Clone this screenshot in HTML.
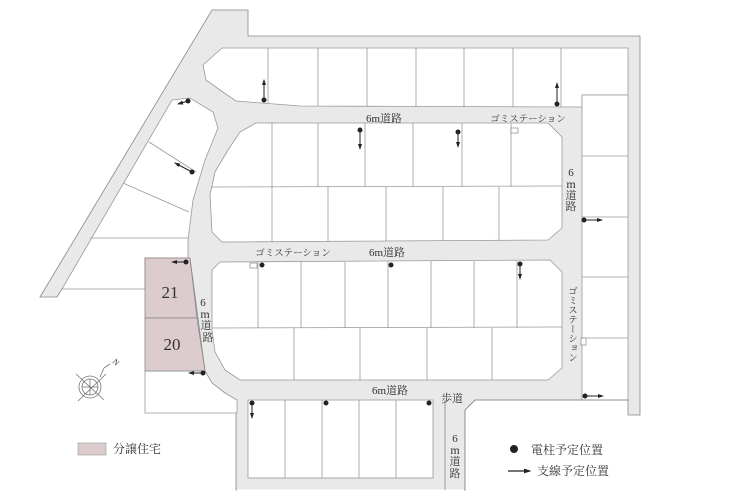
<!DOCTYPE html>
<html><head><meta charset="utf-8"><style>
html,body{margin:0;padding:0;background:#fff;}
svg{display:block;}
text{font-family:"Liberation Serif","Noto Serif CJK SC",serif;fill:#333;}
.j{font-family:"Liberation Serif","Noto Serif CJK JP","Noto Sans CJK JP",serif;}
</style></head><body>
<svg width="730" height="500" viewBox="0 0 730 500" xmlns="http://www.w3.org/2000/svg">
<defs><marker id="ah" markerWidth="6" markerHeight="6" refX="5" refY="3" orient="auto"><path d="M0,1 L6,3 L0,5 z" fill="#222"/></marker></defs>
<polygon points="212,10 248,10 248,36 640,36 640,415 628,415 628,400 475,400 465,410 465,490 236,490 236,400 225,393 212,383 205,371 190,258 188,258 62,289 57,297 40,297" fill="#e9e9e9" stroke="#888" stroke-width="0.8"/>
<line x1="237" y1="490.5" x2="464" y2="490.5" stroke="#fff" stroke-width="2"/>
<g fill="#fff" stroke="#999" stroke-width="0.8">
<polygon points="222,48 628,48 628,95 582,95 582,107 300,106 236,101 220,90 206,80 203,65"/>
<line x1="268" y1="48" x2="268" y2="103"/><line x1="318" y1="48" x2="318" y2="106"/>
<line x1="367" y1="48" x2="367" y2="106"/><line x1="416" y1="48" x2="416" y2="106"/>
<line x1="464" y1="48" x2="464" y2="107"/><line x1="513" y1="48" x2="513" y2="107"/>
<line x1="561" y1="48" x2="561" y2="107"/>
<rect x="582" y="95" width="46" height="305"/>
<line x1="582" y1="156" x2="628" y2="156"/><line x1="582" y1="217" x2="628" y2="217"/>
<line x1="582" y1="277" x2="628" y2="277"/><line x1="582" y1="338" x2="628" y2="338"/>
<polygon points="256,123 548,123 562,137 562,228 548,240 222,242 212,232 210,195 215,172 228,150 240,132"/>
<line x1="211" y1="187" x2="562" y2="186"/>
<line x1="272" y1="123" x2="272" y2="242"/><line x1="318" y1="123" x2="318" y2="187"/>
<line x1="365" y1="123" x2="365" y2="187"/><line x1="413" y1="123" x2="413" y2="187"/>
<line x1="462" y1="123" x2="462" y2="187"/><line x1="511" y1="123" x2="511" y2="187"/>
<line x1="328" y1="187" x2="328" y2="241"/><line x1="386" y1="187" x2="386" y2="241"/>
<line x1="443" y1="187" x2="443" y2="241"/><line x1="499" y1="187" x2="499" y2="240"/>
<polygon points="220,262 550,260 562,272 562,368 548,380 240,380 225,370 215,352 212,330 212,270"/>
<line x1="212" y1="328" x2="562" y2="327"/>
<line x1="258" y1="262" x2="258" y2="328"/><line x1="301" y1="262" x2="301" y2="328"/>
<line x1="345" y1="262" x2="345" y2="328"/><line x1="388" y1="261" x2="388" y2="328"/>
<line x1="431" y1="261" x2="431" y2="328"/><line x1="474" y1="261" x2="474" y2="328"/>
<line x1="517" y1="261" x2="517" y2="328"/>
<line x1="294" y1="328" x2="294" y2="380"/><line x1="360" y1="328" x2="360" y2="380"/>
<line x1="427" y1="328" x2="427" y2="380"/><line x1="492" y1="328" x2="492" y2="380"/>
<rect x="248" y="400" width="185" height="78"/>
<line x1="285" y1="400" x2="285" y2="478"/><line x1="322" y1="400" x2="322" y2="478"/>
<line x1="359" y1="400" x2="359" y2="478"/><line x1="396" y1="400" x2="396" y2="478"/>
<polygon points="172,100 190,98 213,112 218,128 205,160 193,200 188,240 188,258 145,258 145,289 62,289"/>
<line x1="149" y1="142" x2="196" y2="172"/><line x1="123" y1="183" x2="189" y2="212"/>
<line x1="90" y1="238" x2="188" y2="238"/>
<polygon points="145,371 205,371 212,383 225,393 237,400 237,413 145,413"/>
</g>
<line x1="445" y1="400" x2="445" y2="490" stroke="#888" stroke-width="0.8"/>
<polyline points="465,490 465,410 475,400 628,400" fill="none" stroke="#888" stroke-width="0.8"/>
<polygon points="145,258 190,258 197,318 145,318" fill="#dccccd" stroke="#888" stroke-width="0.8"/>
<polygon points="145,318 197,318 205,371 145,371" fill="#dccccd" stroke="#888" stroke-width="0.8"/>
<text x="170" y="298" font-size="17" text-anchor="middle">21</text>
<text x="172" y="350" font-size="17" text-anchor="middle">20</text>
<g fill="#fff" stroke="#888" stroke-width="0.7">
<rect x="511" y="128" width="7" height="5"/><rect x="250" y="263" width="7" height="5"/><rect x="581" y="338" width="5" height="7"/>
</g>
<g class="j" font-size="10.5">
<text x="384" y="122" text-anchor="middle" font-size="11">6m道路</text>
<text x="528" y="122" text-anchor="middle" font-size="9.5">ゴミステーション</text>
<text x="293" y="256" text-anchor="middle" font-size="9.5">ゴミステーション</text>
<text x="387" y="256" text-anchor="middle" font-size="11">6m道路</text>
<text x="390" y="394" text-anchor="middle" font-size="11">6m道路</text>
<text x="452" y="402" text-anchor="middle" font-size="11">歩道</text>
<text x="571" y="176" text-anchor="middle" font-size="11">6</text>
<text x="571" y="188" text-anchor="middle" font-size="12">m</text>
<text x="571" y="199" text-anchor="middle" font-size="11">道</text>
<text x="571" y="210" text-anchor="middle" font-size="11">路</text>
<text x="455" y="442" text-anchor="middle" font-size="11">6</text>
<text x="455" y="454" text-anchor="middle" font-size="12">m</text>
<text x="455" y="465" text-anchor="middle" font-size="11">道</text>
<text x="455" y="477" text-anchor="middle" font-size="11">路</text>
<text x="203" y="306" text-anchor="middle" font-size="11">6</text>
<text x="205" y="318" text-anchor="middle" font-size="12">m</text>
<text x="206" y="329" text-anchor="middle" font-size="11">道</text>
<text x="208" y="341" text-anchor="middle" font-size="11">路</text>
<text x="571" y="286" font-size="9.5" style="writing-mode:vertical-rl">ゴミステーション</text>
<text x="113" y="453" font-size="12">分譲住宅</text>
<text x="531" y="454" font-size="12">電柱予定位置</text>
<text x="537" y="475" font-size="12">支線予定位置</text>
</g>
<rect x="78" y="443" width="28" height="12" fill="#dccccd" stroke="#999" stroke-width="0.6"/>
<circle cx="514" cy="449" r="4" fill="#222"/>
<line x1="508" y1="471" x2="530" y2="471" stroke="#222" stroke-width="1.2" marker-end="url(#ah)"/>
<g fill="#222">
<circle cx="264" cy="100" r="2.5"/><circle cx="188" cy="101" r="2.5"/><circle cx="192" cy="172" r="2.5"/>
<circle cx="360" cy="130" r="2.5"/><circle cx="458" cy="132" r="2.5"/><circle cx="557" cy="104" r="2.5"/>
<circle cx="584" cy="220" r="2.5"/><circle cx="186" cy="262" r="2.5"/><circle cx="262" cy="265" r="2.5"/>
<circle cx="391" cy="265" r="2.5"/><circle cx="520" cy="264" r="2.5"/><circle cx="203" cy="373" r="2.5"/>
<circle cx="252" cy="403" r="2.5"/><circle cx="326" cy="403" r="2.5"/><circle cx="429" cy="403" r="2.5"/>
<circle cx="585" cy="396" r="2.5"/>
</g>
<g stroke="#222" stroke-width="1" marker-end="url(#ah)">
<line x1="264" y1="100" x2="264" y2="80"/><line x1="188" y1="101" x2="178" y2="104"/>
<line x1="192" y1="172" x2="175" y2="163"/><line x1="360" y1="130" x2="360" y2="149"/>
<line x1="458" y1="132" x2="458" y2="147"/><line x1="557" y1="104" x2="557" y2="83"/>
<line x1="584" y1="220" x2="602" y2="220"/><line x1="186" y1="262" x2="172" y2="262"/>
<line x1="520" y1="264" x2="520" y2="279"/><line x1="203" y1="373" x2="189" y2="373"/>
<line x1="252" y1="403" x2="252" y2="418"/><line x1="585" y1="396" x2="603" y2="396"/>
</g>
<g stroke="#777" stroke-width="0.8" fill="none">
<circle cx="90" cy="387" r="11"/><circle cx="90" cy="387" r="8"/>
<line x1="76" y1="374" x2="104" y2="400"/><line x1="78" y1="401" x2="106" y2="374"/>
<line x1="90" y1="379" x2="90" y2="395"/><line x1="82" y1="387" x2="98" y2="387"/>
<polyline points="100,377 104,368 110,364"/>
</g>
<text x="112" y="362" font-size="8" fill="#555" transform="rotate(45 112 362)">N</text>
</svg>
</body></html>
